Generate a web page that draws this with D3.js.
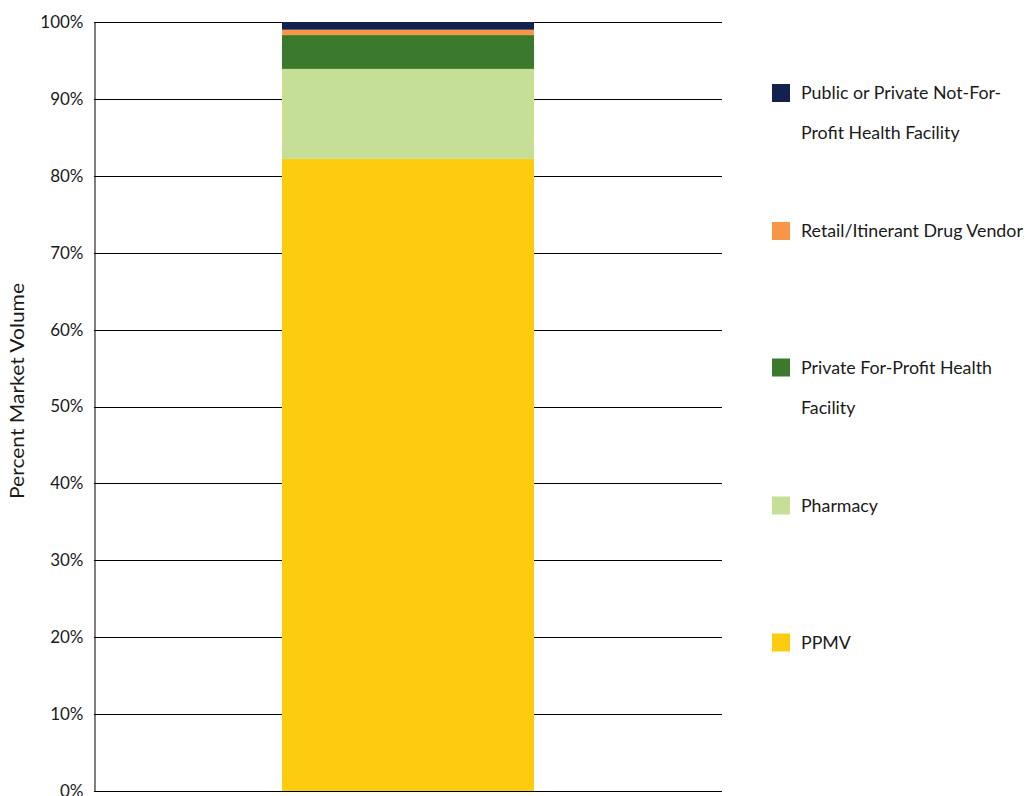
<!DOCTYPE html>
<html><head><meta charset="utf-8">
<script src="https://cdn.jsdelivr.net/npm/d3@7"></script>
<style>body{margin:0;background:#fff;} svg{display:block;font-family:Lato,"Open Sans",sans-serif;}</style>
</head><body>
<svg id="c" width="1028" height="796"></svg>
<script>
const categories = ["All"];
const seriesNames = ["PPMV","Pharmacy","Private For-Profit Health Facility","Retail/Itinerant Drug Vendor","Public or Private Not-For-Profit Health Facility"];
const seriesValues = [82.2, 11.7, 4.4, 0.7, 1.0];
const seriesColors = ["#fdcc0e","#c6df96","#3b7a2c","#f79646","#13214f"];
const legendLines = [["PPMV"],["Pharmacy"],["Private For-Profit Health","Facility"],["Retail/Itinerant Drug Vendor"],["Public or Private Not-For-","Profit Health Facility"]];
const tickValues = [0,10,20,30,40,50,60,70,80,90,100];

(function(){
const svg = d3.select("#c");
const pLeft = 94, pRight = 722, pTop = 22, pBottom = 791;
const y = d3.scaleLinear().domain([0,100]).range([pBottom, pTop]);
const x = d3.scaleBand().domain(categories).range([pLeft, pRight]).paddingInner(0).paddingOuter(0.746);

// gridlines
svg.append("g").selectAll("line").data(tickValues).join("line")
  .attr("x1", pLeft).attr("x2", pRight)
  .attr("y1", d => Math.round(y(d)) + 0.5).attr("y2", d => Math.round(y(d)) + 0.5)
  .attr("stroke", "#000").attr("stroke-width", 1);

// stacked bar
let cum = 0;
const stacked = seriesValues.map((v,i) => { const s = {y0: cum, y1: Math.min(cum + v, 100), c: seriesColors[i]}; cum += v; return s; });
svg.append("g").selectAll("rect").data(stacked).join("rect")
  .attr("x", x("All")).attr("width", x.bandwidth())
  .attr("y", d => y(d.y1)).attr("height", d => y(d.y0) - y(d.y1))
  .attr("fill", d => d.c);

// y axis
const yAxis = d3.axisLeft(y).tickValues(tickValues).tickFormat(d => d + "%").tickSize(0).tickPadding(11);
const ga = svg.append("g").attr("transform", `translate(${pLeft+0.5},0)`).call(yAxis);
ga.select(".domain").attr("stroke", "#000");
ga.selectAll("text").attr("font-size", 17).attr("fill", "#1a1a1a").style("font-family","Lato,'Open Sans',sans-serif");

// axis title
svg.append("text").attr("transform", `translate(24,391) rotate(-90)`)
  .attr("text-anchor","middle").attr("font-size", 18.5).attr("fill","#1a1a1a")
  .attr("textLength", 216).attr("lengthAdjust","spacingAndGlyphs").text("Percent Market Volume");

// legend (top to bottom: reverse order)
const legendY = [93, 231, 367.5, 505.5, 642.5];
const order = [4,3,2,1,0];
const lg = svg.append("g");
order.forEach((si, k) => {
  const cy = legendY[k];
  lg.append("rect").attr("x", 772).attr("y", cy - 9).attr("width", 18).attr("height", 18).attr("fill", seriesColors[si]);
  legendLines[si].forEach((t, j) => {
    lg.append("text").attr("x", 801).attr("y", cy + j*40).attr("dy","0.35em")
      .attr("font-size", 17.8).attr("fill","#1a1a1a").text(t);
  });
});
})();
</script>
</body></html>
